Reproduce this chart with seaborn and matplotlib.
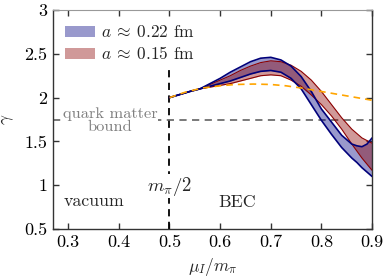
import numpy as np
import pandas as pd
import matplotlib
matplotlib.use("Agg")
import matplotlib.pyplot as plt
import seaborn as sns
from matplotlib.patches import Patch

# ---- data ----
mu = [0.50, 0.52, 0.54, 0.56, 0.58, 0.60, 0.62, 0.64, 0.66, 0.68, 0.70, 0.72,
      0.74, 0.76, 0.78, 0.80, 0.82, 0.84, 0.86, 0.87, 0.88, 0.89, 0.90]
blue_upper = [2.00, 2.035, 2.07, 2.10, 2.16, 2.22, 2.29, 2.35, 2.41, 2.45, 2.46, 2.43,
              2.36, 2.24, 2.07, 1.87, 1.72, 1.57, 1.47, 1.45, 1.44, 1.47, 1.54]
blue_lower = [2.00, 2.035, 2.07, 2.10, 2.13, 2.16, 2.19, 2.23, 2.27, 2.30, 2.31, 2.29,
              2.22, 2.10, 1.92, 1.74, 1.58, 1.43, 1.31, 1.26, 1.20, 1.15, 1.10]
red_upper = [2.00, 2.035, 2.07, 2.10, 2.15, 2.20, 2.25, 2.31, 2.36, 2.40, 2.42, 2.41,
             2.37, 2.30, 2.20, 2.07, 1.92, 1.77, 1.64, 1.59, 1.54, 1.51, 1.48]
red_lower = [2.00, 2.035, 2.07, 2.10, 2.12, 2.14, 2.16, 2.19, 2.22, 2.25, 2.26, 2.25,
             2.20, 2.13, 2.03, 1.92, 1.79, 1.64, 1.47, 1.39, 1.31, 1.24, 1.17]
chiral_mu = [0.50, 0.53, 0.565, 0.60, 0.63, 0.666, 0.70, 0.73, 0.76, 0.80, 0.85, 0.90]
chiral_gamma = [2.00, 2.06, 2.11, 2.135, 2.15, 2.155, 2.15, 2.135, 2.11, 2.07, 2.02, 1.97]
quark_bound = 1.75
pion_half = 0.5
labels = [r"$a\:\approx\:0.22$ fm", r"$a\:\approx\:0.15$ fm"]

df = pd.DataFrame({"mu": mu, "bu": blue_upper, "bl": blue_lower,
                   "ru": red_upper, "rl": red_lower})
dfc = pd.DataFrame({"mu": chiral_mu, "g": chiral_gamma})

sns.set_theme(style="ticks")
plt.rcParams["font.family"] = ["serif"]
plt.rcParams["font.serif"] = ["cmr10", "DejaVu Serif"]
plt.rcParams["mathtext.fontset"] = "cm"
plt.rcParams["axes.formatter.use_mathtext"] = True
plt.rcParams["axes.unicode_minus"] = False

fig = plt.figure(figsize=(3.84, 2.78), dpi=100)
ax = fig.add_axes([0.138, 0.176, 0.831, 0.788])

blue_fill = (0.0, 0.0, 0.5, 0.4)
red_fill = (0.545, 0.0, 0.0, 0.4)
ax.fill_between(df["mu"], df["bl"], df["bu"], color=blue_fill, lw=0, zorder=2)
ax.fill_between(df["mu"], df["rl"], df["ru"], color=red_fill, lw=0, zorder=2)
for col in ["ru", "rl"]:
    sns.lineplot(data=df, x="mu", y=col, ax=ax, color="#8b0000", lw=0.8, zorder=3)
for col in ["bu", "bl"]:
    sns.lineplot(data=df, x="mu", y=col, ax=ax, color="#00007a", lw=1.2, zorder=3)

sns.lineplot(data=dfc, x="mu", y="g", ax=ax, color="#ffa500", lw=1.2,
             dashes=False, zorder=4).lines[-1].set_dashes([4, 3])

ax.axhline(quark_bound, color="#6e6e6e", lw=1.3, ls=(0, (4, 3)), zorder=1)
ax.plot([pion_half, pion_half], [0.5, 2.35], color="black", lw=1.3,
        ls=(0, (4, 3)), zorder=1)

ax.text(0.383, 1.735, "quark matter\nbound", color="#808080", fontsize=11.8,
        ha="center", va="center", linespacing=0.88,
        bbox=dict(facecolor="white", edgecolor="none", pad=0.5), zorder=5)
ax.text(pion_half, 0.99, r"$m_\pi/2$", fontsize=13.5, ha="center", va="center",
        bbox=dict(facecolor="white", edgecolor="none", pad=0.3), zorder=5)
ax.text(0.351, 0.82, "vacuum", fontsize=12.8, ha="center", va="center")
ax.text(0.634, 0.81, "BEC", fontsize=12.8, ha="center", va="center")

ax.set_xlim(0.27, 0.9)
ax.set_ylim(0.5, 3)
ax.set_xticks([0.3, 0.4, 0.5, 0.6, 0.7, 0.8, 0.9])
ax.set_yticks([0.5, 1, 1.5, 2, 2.5, 3])
ax.set_yticklabels(["0.5", "1", "1.5", "2", "2.5", "3"])
ax.set_xticklabels(["0.3", "0.4", "0.5", "0.6", "0.7", "0.8", "0.9"])
ax.tick_params(direction="in", top=True, right=True, length=4, width=1,
               labelsize=13, colors="#333333", labelcolor="black", pad=4)
ax.set_xlabel(r"$\mu_I/m_\pi$", fontsize=12.5, labelpad=4)
ax.set_ylabel(r"$\gamma$", fontsize=12.5, labelpad=6)
for s in ["left", "bottom", "right"]:
    ax.spines[s].set_color("#333333")
    ax.spines[s].set_linewidth(1.0)
ax.spines["top"].set_color("#999999")
ax.spines["top"].set_linewidth(0.8)

handles = [Patch(facecolor=blue_fill, edgecolor="none"),
           Patch(facecolor=red_fill, edgecolor="none")]
ax.legend(handles, labels, loc="upper left", frameon=False, fontsize=12.5,
          handlelength=1.75, handleheight=0.6, handletextpad=0.3,
          labelspacing=0.3, borderaxespad=0, borderpad=0,
          bbox_to_anchor=(0.038, 0.935))

fig.savefig("out.png", dpi=100)
